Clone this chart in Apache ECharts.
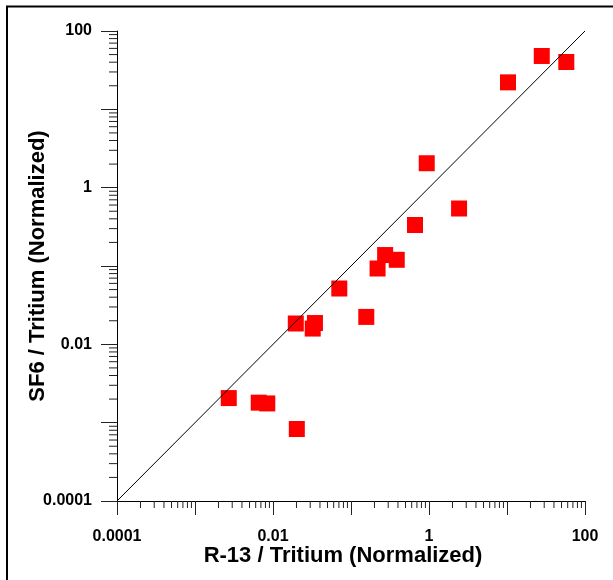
<!DOCTYPE html>
<html>
<head>
<meta charset="utf-8">
<script src="https://cdn.jsdelivr.net/npm/echarts@6/dist/echarts.min.js"></script>
<style>
html, body { margin: 0; padding: 0; background: #fff; }
#chart { width: 613px; height: 580px; }
</style>
</head>
<body>
<div id="chart"></div>
<script>
// values (log-log)
var r13 = [0.00271, 0.00656, 0.00845, 0.0202, 0.0196, 0.0323, 0.0345, 0.0708, 0.157,
           0.219, 0.274, 0.386, 0.662, 0.935, 2.43, 10.3, 27.9, 57.6];
var sf6 = [0.00206, 0.00180, 0.00176, 0.00083, 0.01845, 0.0159, 0.0187, 0.0516, 0.0224,
           0.0929, 0.138, 0.120, 0.334, 2.05, 0.542, 22.1, 48.0, 40.2];
var oneToOne = [0.0001, 100];
var tickLabels = ['0.0001', '0.01', '1', '100'];
var decades = [0.0001, 0.001, 0.01, 0.1, 1, 10];
var axisMin = 0.0001, axisMax = 100;

var points = r13.map(function (x, i) { return [x, sf6[i]]; });

// minor ticks 2..9 inside each decade
var minorVals = [];
decades.forEach(function (d) {
    for (var k = 2; k <= 9; k++) minorVals.push(k * d);
});

function labelFmt(v) {
    for (var i = 0; i < tickLabels.length; i++) {
        if (Math.abs(Math.log10(v) - Math.log10(parseFloat(tickLabels[i]))) < 1e-6) return tickLabels[i];
    }
    return '';
}

var font = 'Liberation Sans, Arial, sans-serif';

var chart = echarts.init(document.getElementById('chart'));
var option = {
    backgroundColor: '#fff',
    animation: false,
    grid: { left: 117, right: 28, top: 31, bottom: 79 },
    graphic: [{
        type: 'rect',
        shape: { x: 7, y: 6.5, width: 700, height: 700 },
        style: { fill: 'none', stroke: '#000', lineWidth: 2 },
        silent: true
    }],
    xAxis: {
        type: 'log', logBase: 10, min: axisMin, max: axisMax,
        name: 'R-13 / Tritium (Normalized)',
        nameLocation: 'middle', nameGap: 44, nameMoveOverlap: false,
        nameTextStyle: { fontFamily: font, fontWeight: 'bold', fontSize: 22, color: '#000', padding: [0, 16, 0, 0] },
        axisLine: { show: true, lineStyle: { color: '#000', width: 1 } },
        axisTick: { show: true, inside: false, length: 14, lineStyle: { color: '#222' } },
        axisLabel: { formatter: labelFmt, margin: 28, fontFamily: font, fontWeight: 'bold', fontSize: 16, color: '#000' },
        splitLine: { show: false }
    },
    yAxis: {
        type: 'log', logBase: 10, min: axisMin, max: axisMax,
        name: 'SF6 / Tritium (Normalized)',
        nameLocation: 'middle', nameGap: 68, nameMoveOverlap: false,
        nameTextStyle: { fontFamily: font, fontWeight: 'bold', fontSize: 22, color: '#000' },
        axisLine: { show: true, lineStyle: { color: '#000', width: 1 } },
        axisTick: { show: true, inside: false, length: 16, lineStyle: { color: '#222' } },
        axisLabel: { formatter: labelFmt, margin: 25, fontFamily: font, fontWeight: 'bold', fontSize: 16, color: '#000' },
        splitLine: { show: false }
    },
    series: [
        {
            type: 'custom', silent: true, clip: false,
            data: minorVals.map(function (v) { return [v, axisMin]; }),
            renderItem: function (params, api) {
                var p = api.coord([api.value(0), api.value(1)]);
                return { type: 'line', shape: { x1: p[0], y1: p[1], x2: p[0], y2: p[1] + 7 },
                         style: { stroke: '#222', lineWidth: 1 } };
            }
        },
        {
            type: 'custom', silent: true, clip: false,
            data: minorVals.map(function (v) { return [axisMin, v]; }),
            renderItem: function (params, api) {
                var p = api.coord([api.value(0), api.value(1)]);
                return { type: 'line', shape: { x1: p[0] - 8, y1: p[1], x2: p[0], y2: p[1] },
                         style: { stroke: '#222', lineWidth: 1 } };
            }
        },
        {
            type: 'scatter',
            symbol: 'rect',
            symbolSize: 16,
            itemStyle: { color: '#ff0000', opacity: 1 },
            data: points
        },
        {
            type: 'line',
            showSymbol: false,
            symbol: 'none',
            lineStyle: { color: '#000', width: 1 },
            data: oneToOne.map(function (v) { return [v, v]; })
        }
    ]
};
chart.setOption(option);
</script>
</body>
</html>
